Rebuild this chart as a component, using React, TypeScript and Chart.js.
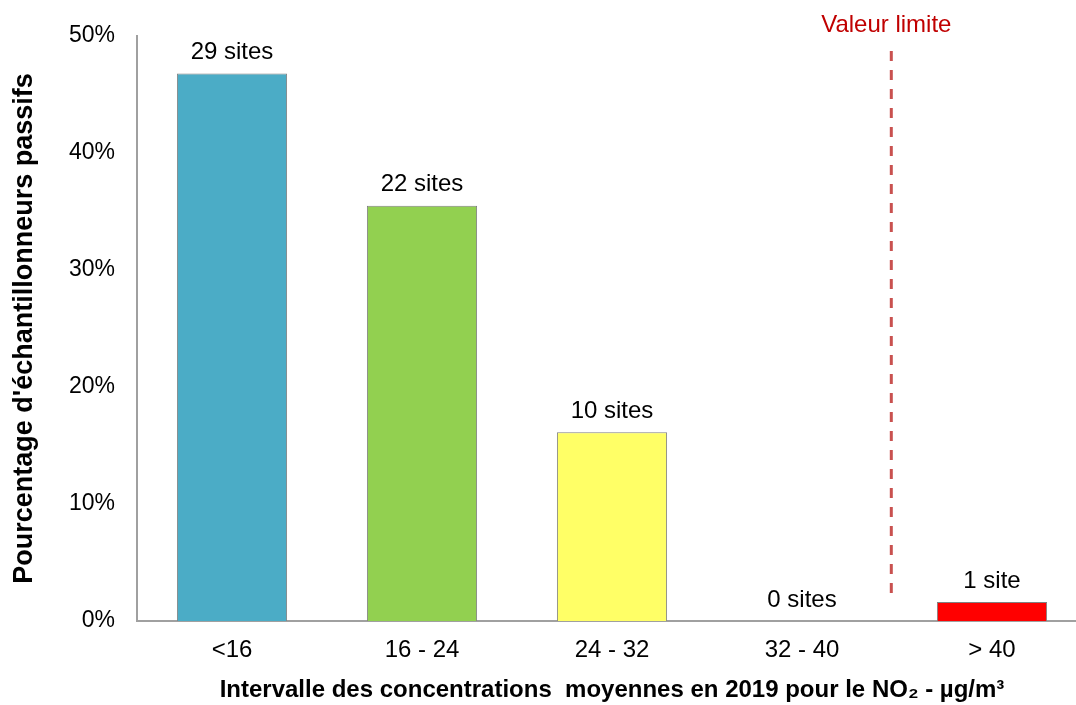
import React, { useEffect, useRef } from "react";
import { Chart, registerables } from "chart.js";

Chart.register(...registerables);

// NO2 concentration ranges (µg/m³) for 2019 passive samplers
const categories = ["<16", "16 - 24", "24 - 32", "32 - 40", "> 40"];
const siteCounts = [29, 22, 10, 0, 1];
const siteLabels = ["29 sites", "22 sites", "10 sites", "0 sites", "1 site"];
const barColors = ["#4BACC6", "#92D050", "#FFFF66", "#FFC000", "#FF0000"];
const yTicks = [0, 10, 20, 30, 40, 50];
// limit value drawn between the 32-40 and > 40 classes (category units)
const limitPosition = 3.47;
const limitLabel = "Valeur limite";
// vertical extent of the dashed limit marker, in percent
const limitTop = 48.7;
const limitBottom = 1.8;

const totalSites = siteCounts.reduce((a, b) => a + b, 0);
const percentages = siteCounts.map((c) => (c / totalSites) * 100);

const FONT = "'Liberation Sans', Arial, sans-serif";

const overlayPlugin = {
  id: "overlay",
  afterDatasetsDraw(chart: any) {
    const { ctx } = chart;
    const meta = chart.getDatasetMeta(0);
    ctx.save();
    ctx.font = `24px ${FONT}`;
    ctx.fillStyle = "#000000";
    ctx.textAlign = "center";
    ctx.textBaseline = "middle";
    meta.data.forEach((bar: any, i: number) => {
      ctx.fillText(siteLabels[i], bar.x, bar.y - 21);
    });

    const xs = chart.scales.x;
    const ys = chart.scales.y;
    const i0 = Math.floor(limitPosition);
    const p3 = xs.getPixelForValue(i0);
    const p4 = xs.getPixelForValue(i0 + 1);
    const lx = p3 + (p4 - p3) * (limitPosition - i0);
    ctx.strokeStyle = "#C9514F";
    ctx.lineWidth = 3;
    ctx.setLineDash([10, 9]);
    ctx.beginPath();
    ctx.moveTo(lx, ys.getPixelForValue(limitTop));
    ctx.lineTo(lx, ys.getPixelForValue(limitBottom));
    ctx.stroke();
    ctx.setLineDash([]);

    ctx.fillStyle = "#C00000";
    ctx.font = `24px ${FONT}`;
    ctx.fillText(limitLabel, lx - 5, 25);
    ctx.restore();
  },
};

export default function App() {
  const canvasRef = useRef<HTMLCanvasElement | null>(null);

  useEffect(() => {
    document.body.style.margin = "0";
    const canvas = canvasRef.current;
    if (!canvas) return;
    const chart = new Chart(canvas, {
      type: "bar",
      data: {
        labels: categories,
        datasets: [
          {
            data: percentages,
            backgroundColor: barColors,
            borderColor: "#808080",
            borderWidth: 1,
            barPercentage: 0.58,
            categoryPercentage: 1,
          },
        ],
      },
      options: {
        responsive: false,
        animation: false,
        layout: { padding: { top: 23, right: 0, left: 0, bottom: 0 } },
        plugins: {
          legend: { display: false },
          tooltip: { enabled: false },
        },
        scales: {
          x: {
            grid: { display: false, drawTicks: false },
            border: { color: "#A0A0A0", width: 2 },
            ticks: {
              color: "#000000",
              font: { family: FONT, size: 24 },
              padding: 15,
            },
            title: {
              display: true,
              text: "Intervalle des concentrations  moyennes en 2019 pour le NO₂ - µg/m³",
              color: "#000000",
              font: { family: FONT, size: 24, weight: "bold" },
              padding: { top: 8, bottom: 0 },
            },
            afterFit(scale: any) {
              scale.height = 84;
            },
          },
          y: {
            min: 0,
            max: 50,
            afterBuildTicks(scale: any) {
              scale.ticks = yTicks.map((v) => ({ value: v }));
            },
            grid: { display: false, drawTicks: false },
            border: { color: "#A0A0A0", width: 2 },
            ticks: {
              color: "#000000",
              font: { family: FONT, size: 23 },
              padding: 22,
              callback: (v: any) => `${v}%`,
            },
            title: {
              display: true,
              text: "Pourcentage d'échantillonneurs passifs",
              color: "#000000",
              font: { family: FONT, size: 27, weight: "bold" },
              padding: { top: 8, bottom: 0 },
            },
            afterFit(scale: any) {
              scale.width = 137;
            },
          },
        },
      },
      plugins: [overlayPlugin],
    });
    return () => chart.destroy();
  }, []);

  return (
    <div style={{ width: 1076, height: 705, overflow: "hidden" }}>
      <canvas ref={canvasRef} width={1087} height={705} style={{ display: "block" }} />
    </div>
  );
}
